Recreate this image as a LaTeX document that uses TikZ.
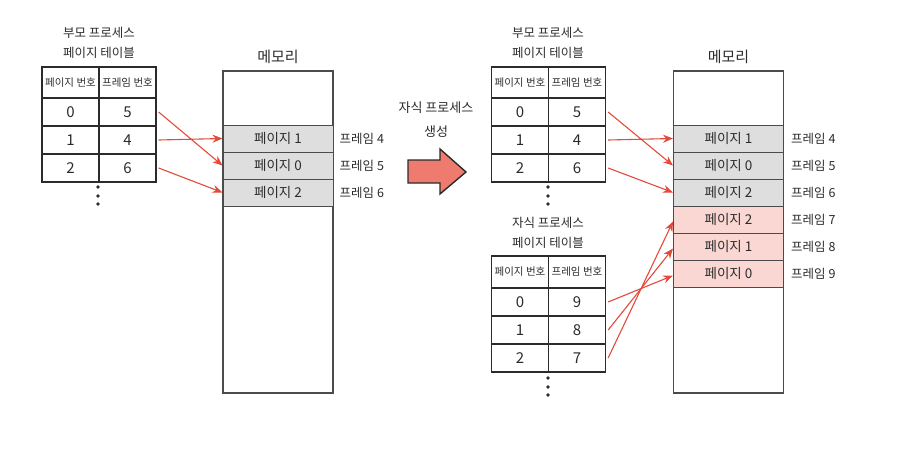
\documentclass[tikz,border=0pt]{standalone}
\usepackage{fontspec}
\setmainfont{Noto Sans CJK KR}
\usetikzlibrary{arrows.meta}
\definecolor{ink}{HTML}{2B2B2B}
\definecolor{memgray}{HTML}{DEDEDE}
\definecolor{mempink}{HTML}{FAD7D2}
\definecolor{redline}{HTML}{E24A3B}
\definecolor{bigarrow}{HTML}{EE7B6E}
\begin{document}
\begin{tikzpicture}[x=1pt,y=-1pt,
  cell/.style={draw=ink,line width=1.3pt,minimum width=57pt,minimum height=28pt,inner sep=0pt,text=ink,font=\fontsize{15}{15}\selectfont},
  hcell/.style={cell,minimum height=31pt,font=\fontsize{10.5}{11}\selectfont},
  memframe/.style={draw=ink!85,line width=1.3pt,minimum width=110pt,minimum height=322pt,inner sep=0pt},
  gcell/.style={draw=ink!85,line width=1pt,fill=memgray,minimum width=110pt,minimum height=27pt,inner sep=0pt,text=ink,font=\fontsize{13.5}{14}\selectfont},
  pcell/.style={gcell,fill=mempink},
  lab/.style={anchor=west,text=ink,font=\fontsize{12.5}{13}\selectfont,inner sep=0pt},
  ttl/.style={text=ink,font=\fontsize{12.5}{13}\selectfont,inner sep=0pt},
  memttl/.style={text=ink,font=\fontsize{15}{15}\selectfont,inner sep=0pt},
  redarrow/.style={draw=redline,line width=1.1pt,-{Stealth[length=10pt,width=8pt]}},
  dot/.style={fill=ink}
]
\useasboundingbox (0,0) rectangle (903,471);

% ---------- left parent table ----------
\node[ttl] (lt1) at (99,33) {부모 프로세스};
\node[ttl] (lt2) at (99,53) {페이지 테이블};
\node[hcell] (lh1) at (70.5,82.5) {페이지 번호};
\node[hcell] (lh2) at (127.5,82.5) {프레임 번호};
\node[cell] (lp0) at (70.5,112) {0};
\node[cell] (lf0) at (127.5,112) {5};
\node[cell] (lp1) at (70.5,140) {1};
\node[cell] (lf1) at (127.5,140) {4};
\node[cell] (lp2) at (70.5,168) {2};
\node[cell] (lf2) at (127.5,168) {6};
\fill[dot] (98,187) circle (1.9);
\fill[dot] (98,196) circle (1.9);
\fill[dot] (98,204) circle (1.9);

% ---------- left memory ----------
\node[memttl] (lmt) at (278,57) {메모리};
\node[memframe] (lmem) at (278,232) {};
\node[gcell] (lm4) at (278,138.5) {페이지 1};
\node[gcell] (lm5) at (278,165.5) {페이지 0};
\node[gcell] (lm6) at (278,192.5) {페이지 2};
\node[lab] (ll4) at ([xshift=6pt]lm4.east) {프레임 4};
\node[lab] (ll5) at ([xshift=6pt]lm5.east) {프레임 5};
\node[lab] (ll6) at ([xshift=6pt]lm6.east) {프레임 6};

\draw[redarrow] ([xshift=2pt]lf0.east) -- (lm5.west);
\draw[redarrow] ([xshift=2pt]lf1.east) -- (lm4.west);
\draw[redarrow] ([xshift=2pt]lf2.east) -- (lm6.west);

% ---------- middle big arrow ----------
\node[ttl,font=\fontsize{13}{13}\selectfont] (mt1) at (436,108) {자식 프로세스};
\node[ttl,font=\fontsize{13}{13}\selectfont] (mt2) at (436,132) {생성};
\draw[fill=bigarrow,draw=ink,line width=1.4pt,line join=miter]
  (408,160) -- (440,160) -- (440,149) -- (466,172) -- (440,194) -- (440,183) -- (408,183) -- cycle;

% ---------- right parent table ----------
\node[ttl] (rt1) at (548,33) {부모 프로세스};
\node[ttl] (rt2) at (548,53) {페이지 테이블};
\node[hcell] (rh1) at (520,82.5) {페이지 번호};
\node[hcell] (rh2) at (577,82.5) {프레임 번호};
\node[cell] (rp0) at (520,112) {0};
\node[cell] (rf0) at (577,112) {5};
\node[cell] (rp1) at (520,140) {1};
\node[cell] (rf1) at (577,140) {4};
\node[cell] (rp2) at (520,168) {2};
\node[cell] (rf2) at (577,168) {6};
\fill[dot] (548,187) circle (1.9);
\fill[dot] (548,196) circle (1.9);
\fill[dot] (548,204) circle (1.9);

% ---------- child table ----------
\node[ttl] (ct1) at (548,223) {자식 프로세스};
\node[ttl] (ct2) at (548,243) {페이지 테이블};
\node[hcell,minimum height=32pt] (ch1) at (520,272) {페이지 번호};
\node[hcell,minimum height=32pt] (ch2) at (577,272) {프레임 번호};
\node[cell] (cp0) at (520,302) {0};
\node[cell] (cf0) at (577,302) {9};
\node[cell] (cp1) at (520,330) {1};
\node[cell] (cf1) at (577,330) {8};
\node[cell] (cp2) at (520,358) {2};
\node[cell] (cf2) at (577,358) {7};
\fill[dot] (548,378) circle (1.9);
\fill[dot] (548,387) circle (1.9);
\fill[dot] (548,395) circle (1.9);

% ---------- right memory ----------
\node[memttl] (rmt) at (728.5,57) {메모리};
\node[memframe] (rmem) at (728.5,232) {};
\node[gcell] (rm4) at (728.5,138.5) {페이지 1};
\node[gcell] (rm5) at (728.5,165.5) {페이지 0};
\node[gcell] (rm6) at (728.5,192.5) {페이지 2};
\node[pcell] (rm7) at (728.5,219.5) {페이지 2};
\node[pcell] (rm8) at (728.5,246.5) {페이지 1};
\node[pcell] (rm9) at (728.5,273.5) {페이지 0};
\node[lab] (rl4) at ([xshift=7pt]rm4.east) {프레임 4};
\node[lab] (rl5) at ([xshift=7pt]rm5.east) {프레임 5};
\node[lab] (rl6) at ([xshift=7pt]rm6.east) {프레임 6};
\node[lab] (rl7) at ([xshift=7pt]rm7.east) {프레임 7};
\node[lab] (rl8) at ([xshift=7pt]rm8.east) {프레임 8};
\node[lab] (rl9) at ([xshift=7pt]rm9.east) {프레임 9};

\draw[redarrow] ([xshift=2pt]rf0.east) -- (rm5.west);
\draw[redarrow] ([xshift=2pt]rf1.east) -- (rm4.west);
\draw[redarrow] ([xshift=2pt]rf2.east) -- (rm6.west);
\draw[redarrow] ([xshift=2pt]cf0.east) -- ([yshift=-2pt]rm9.west);
\draw[redarrow] ([xshift=2pt]cf1.east) -- ([yshift=-2pt]rm8.west);
\draw[redarrow] ([xshift=2pt]cf2.east) -- ([yshift=-2pt]rm7.west);
\end{tikzpicture}
\end{document}
